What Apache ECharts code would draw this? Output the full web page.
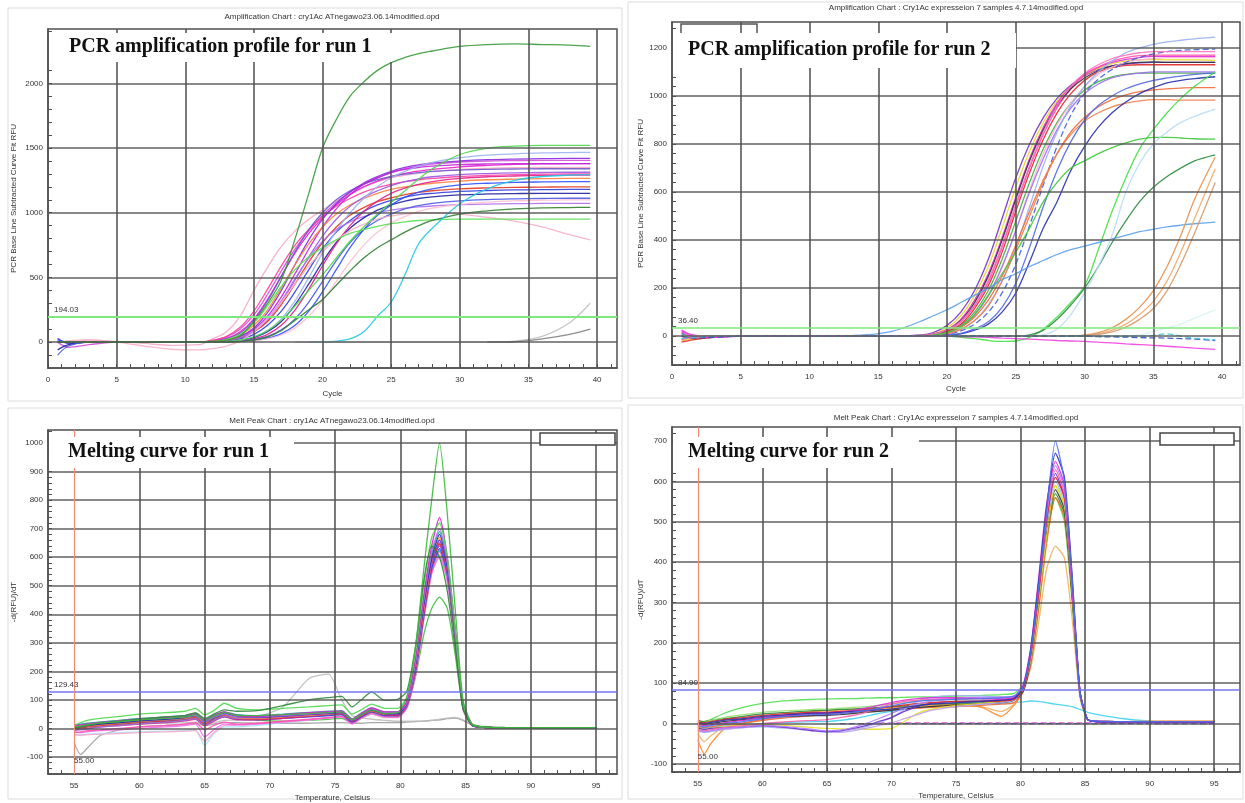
<!DOCTYPE html>
<html>
<head>
<meta charset="utf-8">
<script src="https://cdn.jsdelivr.net/npm/echarts@6.0.0/dist/echarts.min.js"></script>
<style>html,body{margin:0;padding:0;background:#fff}#c{width:1245px;height:803px}</style>
</head>
<body>
<div id="c"></div>
<script>
// ---------- Panel 1: amplification run 1 ----------
const cycles1 = [0.7,1.5,3,5,7,9,11,12,13,14,15,16,17,18,19,20,21,22,23,24,25,26,27,28,30,32,34,36,38,39.5];
const amp1TallGreen = [0,0,0,0,0,0,2,5,15,50,160,300,480,800,1150,1500,1720,1900,2010,2100,2160,2200,2230,2250,2285,2300,2305,2300,2295,2285];
const amp1Cyan = [null,null,null,null,null,null,null,null,null,null,null,null,null,null,0,2,8,25,80,200,310,520,760,880,1070,1185,1250,1280,1290,1295];
const amp1PinkFall = [0,10,20,0,-30,-55,-60,-50,-30,10,80,180,310,450,590,700,790,860,910,950,975,990,1000,1000,990,965,935,890,830,790];
const amp1GreenTop = [0,0,0,0,0,0,0,0,5,15,40,90,170,280,400,520,650,780,890,990,1080,1170,1260,1340,1450,1500,1515,1520,1520,1520];
const amp1GreenLow = [0,0,0,0,0,0,0,5,20,60,150,280,430,560,660,730,790,840,870,895,915,930,940,945,950,950,950,950,950,950];
const amp1DarkGreen = [0,0,0,0,0,0,0,0,0,5,15,40,90,170,250,330,440,550,650,730,790,850,900,940,990,1015,1030,1038,1040,1042];
const amp1GrayLight = [null,null,null,null,null,null,null,null,null,null,null,null,null,0,0,0,0,0,0,0,0,0,0,0,0,0,8,45,150,300];
const amp1GrayDark = [null,null,null,null,null,null,null,null,null,null,null,null,null,null,null,null,null,null,null,null,null,null,null,null,null,0,3,25,60,100];
const amp1B1 = [10,-5,0,0,0,0,0,10,30,80,180,330,510,690,840,960,1060,1140,1200,1245,1280,1305,1322,1335,1355,1366,1373,1377,1380,1380];
const amp1B2 = [0,5,0,0,0,0,0,15,45,115,240,410,590,750,870,970,1050,1110,1160,1195,1220,1240,1255,1265,1280,1288,1294,1298,1300,1300];
const amp1B3 = [0,0,0,0,0,0,0,5,15,45,110,230,400,600,790,950,1070,1160,1230,1280,1320,1350,1370,1385,1400,1410,1415,1418,1420,1420];
const amp1B4 = [30,-10,0,0,0,0,0,3,8,25,60,130,240,390,560,720,850,940,1010,1060,1095,1120,1140,1150,1165,1172,1176,1178,1180,1180];
const amp1B5 = [0,0,0,0,0,0,0,8,25,70,170,320,510,700,870,1000,1100,1170,1220,1255,1280,1298,1310,1320,1330,1335,1338,1340,1340,1340];
const amp1B6 = [0,0,0,0,0,0,0,5,12,35,80,160,290,450,620,770,890,980,1040,1085,1115,1140,1158,1170,1185,1192,1196,1198,1200,1200];
const amp1B7 = [0,0,0,0,0,0,0,8,20,55,130,250,420,600,760,890,990,1060,1110,1150,1180,1200,1215,1228,1245,1255,1260,1264,1266,1266];
const amp1B8 = [0,0,0,0,0,0,0,0,5,15,40,90,180,320,500,690,860,1000,1110,1200,1270,1320,1360,1390,1425,1445,1455,1462,1465,1467];
const amp1B9 = [0,0,0,0,0,0,0,3,10,30,80,170,310,480,660,820,950,1050,1120,1170,1210,1240,1262,1278,1295,1303,1308,1311,1313,1313];
const amp1B10 = [-60,-20,0,0,0,0,0,0,4,12,35,80,160,290,450,620,770,880,960,1020,1060,1090,1110,1122,1138,1145,1148,1150,1150,1150];
const amp1B11 = [0,-40,-20,0,0,0,0,12,40,100,210,370,550,720,860,980,1080,1160,1220,1270,1310,1340,1360,1375,1392,1400,1403,1405,1405,1405];
const amp1B12 = [-100,-30,0,0,0,0,0,0,3,8,20,45,95,180,310,470,630,770,870,940,990,1030,1055,1072,1092,1102,1107,1110,1112,1112];
const amp1B13 = [0,0,0,0,0,0,0,4,12,35,85,180,320,490,650,780,870,930,970,1000,1020,1035,1045,1052,1062,1067,1070,1072,1073,1073];
const amp1B14 = [0,0,0,0,0,0,0,0,2,8,25,60,130,250,410,590,760,900,1010,1090,1150,1190,1220,1240,1265,1278,1284,1288,1290,1290];
const amp1B15 = [0,0,15,5,-10,-25,-20,25,80,200,400,580,740,860,950,1020,1090,1150,1200,1240,1270,1290,1305,1318,1335,1343,1348,1350,1351,1351];
const amp1B16 = [20,0,0,0,0,0,0,0,0,5,12,30,65,130,240,390,560,730,870,980,1060,1120,1160,1185,1215,1228,1235,1238,1240,1240];
const amp1B17 = [0,0,0,0,0,0,0,5,15,40,100,200,350,530,720,890,1030,1140,1220,1270,1310,1335,1350,1360,1372,1377,1379,1380,1380,1380];
const amp1B18 = [0,0,0,0,0,0,0,0,0,3,10,25,55,110,200,320,470,620,750,850,920,970,1010,1035,1065,1082,1092,1097,1100,1100];
const amp1XGrid = [5,10,15,20,25,30,35,40];
const amp1YGrid = [0,500,1000,1500,2000];
const amp1Threshold = 194.03;

// ---------- Panel 2: amplification run 2 ----------
const cycles2 = [0.7,1.5,3,5,8,11,14,16,18,19,20,21,22,23,24,25,26,27,28,29,30,31,32,33,34,35,36,37,38,39.5];
const amp2C1 = [15,-10,-5,0,0,0,0,0,5,15,45,100,190,320,490,660,800,910,990,1045,1085,1110,1125,1133,1138,1140,1140,1140,1140,1140];
const amp2C2 = [-20,-10,0,0,0,0,0,0,3,10,35,85,170,290,450,620,770,890,980,1040,1085,1115,1135,1145,1150,1152,1150,1150,1150,1148];
const amp2C3 = [25,5,0,0,0,0,0,0,2,8,28,70,150,260,410,580,740,870,970,1040,1090,1120,1140,1152,1160,1165,1165,1165,1165,1165];
const amp2C4 = [-15,-5,0,0,0,0,0,0,2,6,22,58,125,225,370,540,700,840,950,1030,1085,1120,1145,1160,1168,1170,1170,1170,1170,1170];
const amp2C5 = [0,0,0,0,0,0,0,0,2,7,25,65,140,250,400,570,730,860,960,1030,1075,1105,1125,1135,1140,1142,1140,1140,1140,1140];
const amp2C6 = [10,0,0,0,0,0,0,0,1,5,18,45,100,190,320,480,640,780,890,970,1025,1060,1080,1090,1095,1095,1095,1095,1095,1095];
const amp2C7 = [-25,-15,-5,0,0,0,0,0,1,5,20,50,115,210,350,520,680,820,930,1010,1065,1100,1118,1127,1130,1130,1130,1130,1130,1130];
const amp2C8 = [0,0,0,0,0,0,0,0,1,4,14,38,85,165,285,440,610,760,880,970,1040,1090,1120,1140,1150,1156,1160,1160,1160,1160];
const amp2C9 = [5,0,0,0,0,0,0,0,1,4,15,40,90,170,290,440,600,740,860,950,1010,1050,1075,1088,1095,1100,1100,1100,1100,1100];
const amp2C10 = [0,0,0,0,0,0,0,0,0,3,10,28,65,130,230,370,540,710,850,960,1040,1100,1145,1180,1200,1215,1225,1232,1238,1245];
const amp2C11 = [0,0,0,0,0,0,0,0,0,2,8,22,50,100,180,300,460,630,790,920,1010,1070,1110,1140,1160,1175,1185,1190,1193,1195];
const amp2C12 = [-10,0,0,0,0,0,0,0,1,4,14,36,80,150,250,380,520,650,760,850,910,955,985,1005,1018,1025,1030,1033,1035,1035];
const amp2C13 = [0,0,0,0,0,0,0,0,0,3,10,28,65,125,230,360,500,640,760,840,895,930,955,970,980,985,985,983,983,983];
const amp2C14 = [0,0,0,0,0,0,0,0,0,1,4,10,25,50,100,180,310,450,560,690,790,870,930,975,1010,1035,1055,1065,1072,1080];
const amp2C15 = [0,0,0,0,0,0,0,0,0,1,5,12,30,60,120,220,370,540,690,810,900,960,1000,1030,1050,1065,1075,1083,1090,1095];
const amp2C16 = [0,0,0,0,0,0,0,0,2,8,26,62,130,235,380,550,710,850,960,1040,1095,1130,1155,1170,1180,1185,1185,1185,1185,1185];
const amp2LateGreen = [0,0,0,0,0,0,0,0,0,0,0,-5,-10,-18,-22,-20,-5,30,80,140,210,360,520,660,780,860,930,990,1040,1100];
const amp2PlateauGreen = [0,0,0,0,0,0,0,0,0,5,15,40,90,170,260,350,450,560,640,700,730,760,785,805,820,828,828,825,822,820];
const amp2DarkGreen = [0,0,0,0,0,0,0,0,0,0,0,0,0,0,0,0,5,25,70,130,200,290,390,480,560,620,665,700,730,755];
const amp2SteelBlue = [0,0,0,0,0,0,5,20,60,85,110,140,170,200,235,260,290,315,340,360,375,390,405,420,435,445,455,462,468,475];
const amp2PaleBlue = [0,0,0,0,0,0,0,0,0,0,0,0,0,0,0,0,0,5,30,90,180,290,420,600,720,800,850,890,915,945];
const amp2Orange1 = [0,0,0,0,0,0,0,0,0,0,0,0,0,0,0,0,0,0,0,0,5,15,35,70,120,190,290,420,570,745];
const amp2Orange2 = [0,0,0,0,0,0,0,0,0,0,0,0,0,0,0,0,0,0,0,0,3,10,25,50,90,145,230,350,490,697];
const amp2Orange3 = [0,0,0,0,0,0,0,0,0,0,0,0,0,0,0,0,0,0,0,0,2,8,18,38,70,115,190,300,430,640];
const amp2PaleCyan = [0,0,0,0,0,0,0,0,0,0,0,0,0,0,0,0,0,0,0,0,0,0,0,0,5,20,35,50,75,110];
const amp2MagentaFall = [20,0,-5,0,0,0,0,0,0,0,0,-2,-3,-5,-8,-10,-12,-15,-18,-20,-22,-25,-28,-32,-35,-38,-42,-46,-50,-55];
const amp2BlueDash = [0,-8,-5,0,0,0,0,0,0,0,0,0,0,0,0,0,0,0,0,0,0,-2,-3,-4,-6,-7,-8,-10,-12,-18];
const amp2CyanDash = [-10,-5,0,0,0,0,0,0,0,0,0,0,0,0,0,0,0,0,0,0,0,0,0,0,0,3,10,0,-8,-15];
const amp2XGrid = [5,10,15,20,25,30,35,40];
const amp2YGrid = [0,200,400,600,800,1000,1200];
const amp2Threshold = 36.40;

// ---------- Panel 3: melt peak run 1 ----------
const temps3 = [55,55.5,56,57,58.5,60,62,63.5,64.3,65,65.7,66.5,67.5,69,71,73,74.5,75.5,76.3,77,77.8,78.8,79.8,80.5,81.2,81.8,82.4,83,83.6,84.2,84.8,85.5,86.5,88,91,95];
const melt1M1 = [5,8,12,18,24,30,35,40,48,25,40,52,40,38,42,48,52,55,28,48,68,52,50,85,230,430,590,660,560,330,80,12,4,2,2,2];
const melt1M2 = [0,3,6,12,18,22,28,32,40,15,30,42,32,30,35,40,45,48,22,40,58,45,45,80,210,400,560,630,540,320,75,10,3,2,2,2];
const melt1M3 = [10,12,15,20,26,32,38,44,52,30,45,58,45,42,48,55,58,60,32,52,72,58,58,95,260,470,640,740,600,350,90,14,4,2,2,2];
const melt1M4 = [-15,-12,-8,-5,0,5,10,15,20,-5,10,22,15,18,25,32,38,42,18,38,55,42,40,75,200,390,550,620,530,310,70,10,3,2,2,2];
const melt1M5 = [-25,-22,-20,-18,-15,-12,-10,-8,-5,-60,-20,5,5,10,20,30,38,45,20,40,58,45,45,80,210,400,560,650,560,340,85,12,4,2,2,2];
const melt1M6 = [-20,-25,-22,-20,-18,-15,-12,-10,-8,-45,-15,10,12,15,22,30,36,40,15,35,50,38,38,70,190,380,540,610,520,300,65,9,3,2,2,2];
const melt1M7 = [10,20,28,35,42,50,55,60,70,48,62,88,70,65,70,75,80,82,50,65,85,70,70,110,280,500,670,720,600,350,85,12,4,2,2,2];
const melt1M8 = [0,5,10,18,25,32,40,45,55,35,50,65,60,62,80,100,108,112,75,100,128,98,102,130,300,520,640,600,480,280,70,12,5,3,2,2];
const melt1M9 = [5,8,12,18,24,30,35,40,48,28,42,55,45,45,48,52,55,58,30,48,65,52,55,110,300,560,800,1000,750,420,100,15,5,2,2,2];
const melt1M11 = [0,2,5,10,15,20,25,30,38,15,30,45,35,32,38,45,50,52,26,44,60,48,48,82,220,410,580,650,550,320,75,11,3,2,2,2];
const melt1M12 = [2,5,8,12,18,24,30,35,42,20,35,48,38,35,40,46,50,54,28,46,62,50,50,85,225,420,590,670,560,330,80,12,4,2,2,2];
const melt1M13 = [8,10,14,20,26,32,36,40,46,22,38,50,40,40,45,50,55,58,30,50,68,55,55,90,240,450,620,700,580,340,85,13,4,2,2,2];
const melt1M14 = [3,6,10,15,20,26,32,38,45,22,36,50,42,40,44,50,54,56,30,48,64,52,52,88,235,440,600,680,570,335,82,12,4,2,2,2];
const melt1M15 = [5,8,10,14,19,24,29,34,40,18,33,46,36,34,38,44,50,53,27,45,61,49,49,84,220,415,580,640,545,320,78,11,3,2,2,2];
const melt1M16 = [-5,-3,0,5,10,15,20,26,32,10,25,40,30,30,35,42,48,52,26,45,62,48,46,80,215,405,575,645,550,325,76,11,3,2,2,2];
const melt1M17 = [0,2,5,10,15,20,25,30,36,12,28,40,32,32,36,42,46,50,24,42,58,45,45,78,205,395,560,625,535,315,72,10,3,2,2,2];
const melt1M18 = [12,15,18,22,28,34,40,45,52,30,45,58,48,45,50,56,60,62,34,54,72,58,58,90,245,455,610,690,580,340,84,13,4,2,2,2];
const melt1M19 = [-8,-5,-2,4,10,16,22,28,34,12,28,42,34,34,40,46,50,54,28,46,62,50,50,82,225,420,585,660,560,330,80,12,4,2,2,2];
const melt1M20 = [-12,-15,-12,-8,-5,0,5,10,15,-30,-5,15,12,15,22,30,36,40,16,36,52,40,40,72,195,385,545,600,515,300,68,9,3,2,2,2];
const melt1M21 = [8,12,16,22,28,34,40,45,50,30,45,55,40,30,25,28,32,35,20,35,50,40,42,75,190,330,420,460,420,260,70,10,3,2,2,2];
const melt1GrayPeak = [5,5,8,10,12,15,18,20,22,15,20,28,30,40,75,175,190,100,45,38,32,28,25,25,25,25,28,32,36,38,30,15,5,3,2,2];
const melt1GrayDip = [-50,-92,-70,-25,-5,5,10,15,18,10,15,20,20,18,18,18,20,20,18,18,20,20,20,22,24,25,28,30,34,36,28,12,4,2,2,2];
const melt1XGrid = [60,65,70,75,80,85,90,95];
const melt1YGrid = [-100,0,100,200,300,400,500,600,700,800,900,1000];
const melt1Threshold = 129.43;

// ---------- Panel 4: melt peak run 2 ----------
const temps4 = [55,55.5,56,57,58.5,60,62,64,65,66,67,68,69,70,71,72,73,75,77,78.5,79.5,80.2,80.8,81.4,82,82.7,83.4,84,84.6,85.2,86,88,91,95];
const melt2N1 = [-5,-8,-5,0,5,12,18,22,22,24,28,32,38,44,50,55,58,60,62,64,68,90,180,340,520,700,600,360,80,10,6,5,5,5];
const melt2N2 = [0,5,10,25,40,50,57,60,61,62,62,63,64,64,65,66,66,68,70,72,75,95,170,310,470,560,500,300,70,10,6,5,5,5];
const melt2N3 = [-40,-75,-50,-15,0,10,22,30,32,34,35,36,38,40,42,44,46,48,40,18,45,80,150,280,440,560,520,320,75,10,6,5,6,6];
const melt2N4 = [-10,-15,-12,-8,-5,-2,-5,-10,-12,-13,-14,-14,-14,-12,5,25,35,45,50,55,60,85,160,300,460,590,540,330,78,10,6,5,5,5];
const melt2N5 = [0,-5,-3,2,8,15,20,25,26,28,32,38,45,52,58,62,64,64,62,60,65,95,190,360,540,650,590,350,80,10,5,4,4,4];
const melt2N6 = [-10,-15,-12,-10,-8,-5,-10,-18,-20,-18,-12,-5,5,15,30,42,50,55,56,58,62,90,175,330,500,620,560,340,78,10,5,4,4,4];
const melt2N7 = [5,2,5,10,15,20,25,28,28,30,32,35,38,42,46,50,52,55,55,56,60,85,170,320,500,610,560,340,78,10,6,5,5,5];
const melt2N8 = [-20,-22,-20,-15,-10,-8,-12,-18,-22,-20,-15,-8,2,15,35,55,65,70,68,66,68,90,170,320,490,600,550,335,78,10,6,5,5,5];
const melt2N9 = [0,-3,0,5,10,15,18,20,20,22,25,28,30,33,36,40,42,46,50,52,58,80,160,300,470,580,530,320,75,10,5,4,4,4];
const melt2N10 = [-15,-18,-15,-10,-5,0,5,8,10,15,20,28,38,48,55,58,60,62,62,62,65,92,180,340,510,630,570,345,80,10,6,5,5,5];
const melt2N11 = [8,5,8,12,18,24,28,32,33,35,36,38,40,42,44,46,48,50,52,54,58,82,160,300,460,570,520,320,75,10,6,5,5,5];
const melt2N12 = [-10,-12,-10,-6,-3,0,3,5,5,8,12,18,25,30,35,40,43,46,48,50,52,54,56,55,52,48,45,42,35,28,22,12,4,3];
const melt2N13 = [-5,-10,-8,-3,2,8,15,20,22,25,28,30,32,34,36,38,40,42,45,48,52,78,150,290,450,560,510,310,72,10,6,5,5,5];
const melt2N14 = [-15,-20,-18,-12,-8,-5,-8,-15,-18,-16,-10,0,12,25,38,48,55,62,65,66,68,95,185,350,520,640,580,350,80,10,6,5,5,5];
const melt2N15 = [-25,-45,-30,-10,0,8,18,25,28,30,32,34,36,38,40,42,44,46,42,30,48,80,140,250,380,440,410,260,65,9,6,5,6,6];
const melt2N16 = [2,0,3,8,12,18,22,26,26,28,30,32,34,36,40,44,48,52,55,58,62,90,185,350,530,670,610,365,82,10,5,4,4,4];
const melt2N17 = [0,3,8,15,22,28,32,35,36,38,40,42,45,48,52,56,58,60,58,56,58,85,165,310,480,590,540,330,76,10,6,5,5,5];
const melt2N18 = [-18,-20,-18,-14,-10,-6,-10,-16,-20,-22,-18,-12,-5,2,12,22,32,42,48,52,58,85,170,320,490,610,560,340,78,10,6,5,5,5];
const melt2FlatDash1 = [null,null,null,null,null,null,null,null,null,0,0,0,0,0,0,0,0,0,0,0,0,0,0,0,0,0,0,0,0,0,0,0,0,0];
const melt2FlatDash2 = [null,null,null,null,null,null,null,null,null,null,null,null,2,2,2,2,2,2,2,2,2,2,2,2,2,2,2,2,2,2,2,2,2,2];
const melt2XGrid = [60,65,70,75,80,85,90,95];
const melt2YGrid = [-100,0,100,200,300,400,500,600,700];
const melt2Threshold = 84.90;
const startTemp = 55;

// ---------- styles (kept separate from data) ----------
const amp1Curves = [amp1B15,amp1B11,amp1B1,amp1B2,amp1B5,amp1B17,amp1B3,amp1B7,amp1B9,amp1B4,amp1B6,amp1B8,amp1B13,amp1B10,amp1B14,amp1B12,amp1B16,amp1B18,amp1PinkFall,amp1GreenLow,amp1GreenTop,amp1DarkGreen,amp1TallGreen,amp1Cyan,amp1GrayLight,amp1GrayDark];
const amp1Colors = ['#f7a8c8','#d050d8','#e81cc8','#ff3fa0','#6a5acd','#c020e0','#8b2be0','#ff8040','#9b59e0','#2f3fe0','#e03a20','#9db4f2','#b070f0','#2020a0','#e0208a','#4a5ae8','#3050ff','#ffc0d0','#f6b0c4','#55e055','#4cd84c','#2f7f2f','#3a9a3a','#22c8e8','#c0c0c0','#808080'];
const amp2Curves = [amp2C1,amp2C2,amp2C3,amp2C4,amp2C5,amp2C6,amp2C7,amp2C8,amp2C9,amp2C10,amp2C11,amp2C12,amp2C13,amp2C14,amp2C15,amp2C16,amp2LateGreen,amp2PlateauGreen,amp2DarkGreen,amp2SteelBlue,amp2PaleBlue,amp2Orange1,amp2Orange2,amp2Orange3,amp2PaleCyan,amp2MagentaFall,amp2BlueDash,amp2CyanDash];
const amp2Colors = ['#7030c8','#e8d820','#e030d8','#ff4fa8','#303040','#40b040','#e02828','#ffb0d8','#a070f0','#98b0f0','#4060d8','#f06a3a','#f08050','#2830b0','#5068e0','#ff70c0','#48e048','#3cc83c','#2e8b3e','#5aa0e8','#b8dcf8','#e8904a','#f0a868','#d89868','#d0f4f4','#f040e0','#3050c0','#40c8e0'];
const amp2Dashed = [10,26,27];
const melt1Curves = [melt1GrayDip,melt1GrayPeak,melt1M21,melt1M5,melt1M6,melt1M20,melt1M4,melt1M17,melt1M2,melt1M15,melt1M16,melt1M11,melt1M19,melt1M12,melt1M1,melt1M14,melt1M18,melt1M13,melt1M3,melt1M7,melt1M8,melt1M9];
const melt1Colors = ['#a0a0a0','#bdbdbd','#40c040','#a8e4f4','#f8a8cc','#f070f0','#ff50b0','#30c0e0','#2d3fe0','#4a70ff','#e0208a','#e03030','#9370db','#ff8c30','#7a2ee0','#1f2ab0','#20a0a0','#b070f0','#e020c8','#50d850','#2f8a3a','#3cb83c'];
const melt2Curves = [melt2FlatDash1,melt2FlatDash2,melt2N12,melt2N15,melt2N3,melt2N2,melt2N13,melt2N11,melt2N17,melt2N9,melt2N4,melt2N8,melt2N18,melt2N6,melt2N7,melt2N10,melt2N14,melt2N5,melt2N16,melt2N1];
const melt2Colors = ['#5050d8','#e070e0','#40d0f0','#f0b060','#ff8c30','#50e050','#f06a3a','#308a40','#90e070','#303030','#e8e020','#a0b8f8','#c0a0f0','#7030c8','#e02828','#ff60b0','#b080ff','#e030d8','#2830b0','#5070f0'];
const melt2Dashed = [0,1];

const FONT = 'Liberation Sans';
const GRID_COLOR = '#505050';

function curveSeries(idx, xs, curves, colors, dashed, smooth) {
  return curves.map((ys, k) => ({
    type: 'line', xAxisIndex: idx, yAxisIndex: idx,
    data: xs.map((x, j) => [x, ys[j]]),
    showSymbol: false, symbol: 'none', smooth: smooth,
    connectNulls: false, silent: true, z: 3,
    lineStyle: { color: colors[k], width: 1.3, opacity: 0.9, type: dashed.indexOf(k) >= 0 ? [6, 3] : 'solid' }
  }));
}
function gridSeries(idx, xg, yg) {
  return {
    type: 'line', xAxisIndex: idx, yAxisIndex: idx, data: [], z: 1, silent: true,
    markLine: {
      silent: true, symbol: ['none', 'none'], label: { show: false },
      lineStyle: { color: GRID_COLOR, width: 1.7, type: 'solid', opacity: 0.9 },
      emphasis: { disabled: true },
      data: xg.map(v => ({ xAxis: v })).concat(yg.map(v => ({ yAxis: v })))
    }
  };
}
function thresholdSeries(idx, val, color, labelText, width) {
  return {
    type: 'line', xAxisIndex: idx, yAxisIndex: idx, data: [], z: 4, silent: true,
    markLine: {
      silent: true, symbol: ['none', 'none'], emphasis: { disabled: true },
      lineStyle: { color: color, width: width, type: 'solid' },
      label: { show: true, position: 'insideStartTop', formatter: labelText, color: '#333', fontSize: 8, fontFamily: FONT, distance: [6, 3] },
      data: [{ yAxis: val }]
    }
  };
}
function startSeries(idx, temp, labelY) {
  return {
    type: 'line', xAxisIndex: idx, yAxisIndex: idx, data: [], z: 4, silent: true,
    markLine: {
      silent: true, symbol: ['none', 'none'], emphasis: { disabled: true },
      lineStyle: { color: '#f28a7a', width: 1.2, type: 'solid' },
      label: { show: false },
      data: [{ xAxis: temp }]
    },
    markPoint: {
      symbol: 'circle', symbolSize: 0, silent: true,
      label: { show: true, position: 'right', distance: 0, formatter: temp.toFixed(2), color: '#333', fontSize: 8, fontFamily: FONT },
      data: [{ coord: [temp, labelY] }]
    }
  };
}
function xAxisCfg(idx, min, max, step, name, gap) {
  return {
    gridIndex: idx, type: 'value', min: min, max: max, interval: 1,
    axisLine: { show: true, onZero: false, lineStyle: { color: GRID_COLOR, width: 1.5 } },
    axisTick: { show: true, inside: true, length: 4, lineStyle: { color: GRID_COLOR, width: 1 } },
    axisLabel: { color: '#333', fontSize: 8, fontFamily: FONT, margin: 8, showMaxLabel: false,
      formatter: v => (Math.abs(v % step) < 1e-9 ? String(v) : '') },
    splitLine: { show: false },
    name: name, nameLocation: 'middle', nameGap: gap,
    nameTextStyle: { color: '#333', fontSize: 8, fontFamily: FONT }
  };
}
function yAxisCfg(idx, min, max, tick, step, name, gap) {
  return {
    gridIndex: idx, type: 'value', min: min, max: max, interval: tick,
    axisLine: { show: true, onZero: false, lineStyle: { color: GRID_COLOR, width: 1.5 } },
    axisTick: { show: true, inside: true, length: 4, lineStyle: { color: GRID_COLOR, width: 1 } },
    axisLabel: { color: '#333', fontSize: 8, fontFamily: FONT, margin: 5, showMaxLabel: false,
      formatter: v => (Math.abs(v % step) < 1e-9 ? String(v) : '') },
    splitLine: { show: false },
    name: name, nameLocation: 'middle', nameGap: gap,
    nameTextStyle: { color: '#333', fontSize: 8, fontFamily: FONT }
  };
}

const grids = [
  { left: 48, top: 29, width: 569, height: 339 },
  { left: 672, top: 22, width: 568, height: 343 },
  { left: 48, top: 430, width: 569, height: 345 },
  { left: 672, top: 427, width: 568, height: 345 }
].map(g => Object.assign(g, { show: true, borderColor: GRID_COLOR, borderWidth: 1.5, backgroundColor: '#fff', containLabel: false }));

function box(x, y, w, h) {
  return { type: 'rect', z: 100, shape: { x: x, y: y, width: w, height: h }, style: { fill: '#fff', stroke: null }, silent: true };
}
function frame(x, y, w, h) {
  return { type: 'rect', z: 0, shape: { x: x, y: y, width: w, height: h }, style: { fill: null, stroke: '#dcdcdc', lineWidth: 1 }, silent: true };
}
function label(text, x, y, font, align) {
  return { type: 'text', z: 101, x: x, y: y, silent: true,
    style: { text: text, font: font, fill: '#111', align: align || 'left', verticalAlign: 'middle' } };
}
const small = '8px "Liberation Sans"';
const big = 'bold 20px "Liberation Serif"';

const graphics = [
  frame(8, 8, 614, 393), frame(628, 2, 615, 396), frame(8, 408, 614, 391), frame(628, 405, 615, 394),
  box(49, 33, 343, 29), box(673, 33, 343, 35), box(49, 437, 245, 31), box(673, 437, 246, 31),
  label('PCR amplification profile for run 1', 69, 47, big),
  label('PCR amplification profile for run 2', 688, 50, big),
  label('Melting curve for run 1', 68, 452, big),
  label('Melting curve for run 2', 688, 452, big),
  { type: 'text', z: 101, x: 332, y: 17, silent: true, style: { text: 'Amplification Chart : cry1Ac ATnegawo23.06.14modified.opd', font: small, fill: '#333', align: 'center', verticalAlign: 'middle' } },
  { type: 'text', z: 101, x: 956, y: 8, silent: true, style: { text: 'Amplification Chart : Cry1Ac expresseion 7 samples 4.7.14modified.opd', font: small, fill: '#333', align: 'center', verticalAlign: 'middle' } },
  { type: 'text', z: 101, x: 332, y: 421, silent: true, style: { text: 'Melt Peak Chart : cry1Ac ATnegawo23.06.14modified.opd', font: small, fill: '#333', align: 'center', verticalAlign: 'middle' } },
  { type: 'text', z: 101, x: 956, y: 418, silent: true, style: { text: 'Melt Peak Chart : Cry1Ac expresseion 7 samples 4.7.14modified.opd', font: small, fill: '#333', align: 'center', verticalAlign: 'middle' } },
  { type: 'rect', z: 101, shape: { x: 540, y: 433, width: 75, height: 12 }, style: { fill: '#fff', stroke: '#444', lineWidth: 1.5 }, silent: true },
  { type: 'rect', z: 101, shape: { x: 1160, y: 433, width: 74, height: 12 }, style: { fill: '#fff', stroke: '#444', lineWidth: 1.5 }, silent: true },
  { type: 'polyline', z: 101, shape: { points: [[681, 33], [681, 24], [757, 24], [757, 33]] }, style: { fill: null, stroke: '#555', lineWidth: 1.5 }, silent: true }
];

const series = [].concat(
  [gridSeries(0, amp1XGrid, amp1YGrid), gridSeries(1, amp2XGrid, amp2YGrid), gridSeries(2, melt1XGrid, melt1YGrid), gridSeries(3, melt2XGrid, melt2YGrid)],
  curveSeries(0, cycles1, amp1Curves, amp1Colors, [], 0.35),
  curveSeries(1, cycles2, amp2Curves, amp2Colors, amp2Dashed, 0.35),
  curveSeries(2, temps3, melt1Curves, melt1Colors, [], 0.2),
  curveSeries(3, temps4, melt2Curves, melt2Colors, melt2Dashed, 0.2),
  [thresholdSeries(0, amp1Threshold, '#7ee87e', amp1Threshold.toFixed(2), 2),
   thresholdSeries(1, amp2Threshold, '#7ee87e', amp2Threshold.toFixed(2), 1.6),
   thresholdSeries(2, melt1Threshold, '#7474f4', melt1Threshold.toFixed(2), 1.6),
   thresholdSeries(3, melt2Threshold, '#7474f4', melt2Threshold.toFixed(2), 1.6),
   startSeries(2, startTemp, -112), startSeries(3, startTemp, -82)]
);

const chart = echarts.init(document.getElementById('c'), null, { renderer: 'canvas' });
chart.setOption({
  animation: false,
  backgroundColor: '#fff',
  grid: grids,
  xAxis: [
    xAxisCfg(0, 0, 41.45, 5, 'Cycle', 22),
    xAxisCfg(1, 0, 41.3, 5, 'Cycle', 20),
    xAxisCfg(2, 53, 96.6, 5, 'Temperature, Celsius', 20),
    xAxisCfg(3, 53, 97, 5, 'Temperature, Celsius', 20)
  ],
  yAxis: [
    yAxisCfg(0, -200, 2420, 100, 500, 'PCR Base Line Subtracted Curve Fit RFU', 30),
    yAxisCfg(1, -120, 1308, 40, 200, 'PCR Base Line Subtracted Curve Fit RFU', 27),
    yAxisCfg(2, -160, 1046, 20, 100, '-d(RFU)/dT', 30),
    yAxisCfg(3, -120, 735, 20, 100, '-d(RFU)/dT', 27)
  ],
  graphic: graphics,
  series: series
});
</script>
</body>
</html>
